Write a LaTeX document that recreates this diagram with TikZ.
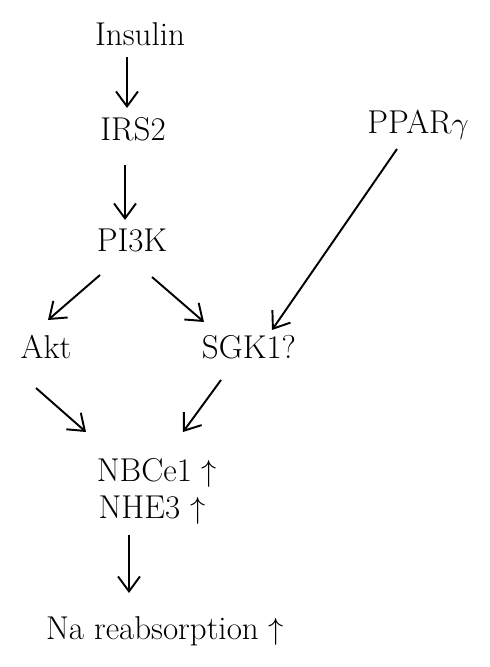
\documentclass[tikz,border=0pt]{standalone}
\usepackage{amsmath, amssymb}
\usepackage{tikz}
\usetikzlibrary{arrows.meta}

\begin{document}
\begin{tikzpicture}[
    x=0.02cm, y=-0.02cm,
    label/.style={inner sep=0pt, anchor=base, font=\fontsize{18.8}{22}\selectfont},
    arr/.style={line width=1.1pt, -{Straight Barb[length=8.5pt, width=12.5pt]}}
]
    \useasboundingbox (0,0) rectangle (490,667);

    % --- Molecules ---
    \node[label] (ins)  at (140,45)  {Insulin};
    \node[label] (irs)  at (133,140) {IRS2};
    \node[label] (ppar) at (418,133) {PPAR$\gamma$};
    \node[label] (pik)  at (132,251) {PI3K};
    \node[label] (akt)  at (46,358)  {Akt};
    \node[label] (sgk)  at (249,358) {SGK1?};
    \node[label] (nbc)  at (157,481) {NBCe1 $\uparrow$};
    \node[label] (nhe)  at (152,518) {NHE3 $\uparrow$};
    \node[label] (na)   at (165,639) {Na reabsorption $\uparrow$};

    % --- Signalling ---
    \draw[arr] ([shift={(-13,12)}]ins.base) -- ([shift={(-6,-32)}]irs.base);
    \draw[arr] ([shift={(-8,25)}]irs.base)  -- ([shift={(-7,-31)}]pik.base);
    \draw[arr] ([shift={(-32,24)}]pik.base) -- ([shift={(2,-38)}]akt.base);
    \draw[arr] ([shift={(20,26)}]pik.base)  -- ([shift={(-45,-36)}]sgk.base);
    \draw[arr] ([shift={(-21,16)}]ppar.base) -- ([shift={(23,-28)}]sgk.base);

    % --- Transporters ---
    \draw[arr] ([shift={(-10,30)}]akt.base) -- ([shift={(-71,-49)}]nbc.base);
    \draw[arr] ([shift={(-28,22)}]sgk.base) -- ([shift={(26,-49)}]nbc.base);
    \draw[arr] ([shift={(-23,17)}]nhe.base) -- ([shift={(-36,-46)}]na.base);
\end{tikzpicture}
\end{document}
